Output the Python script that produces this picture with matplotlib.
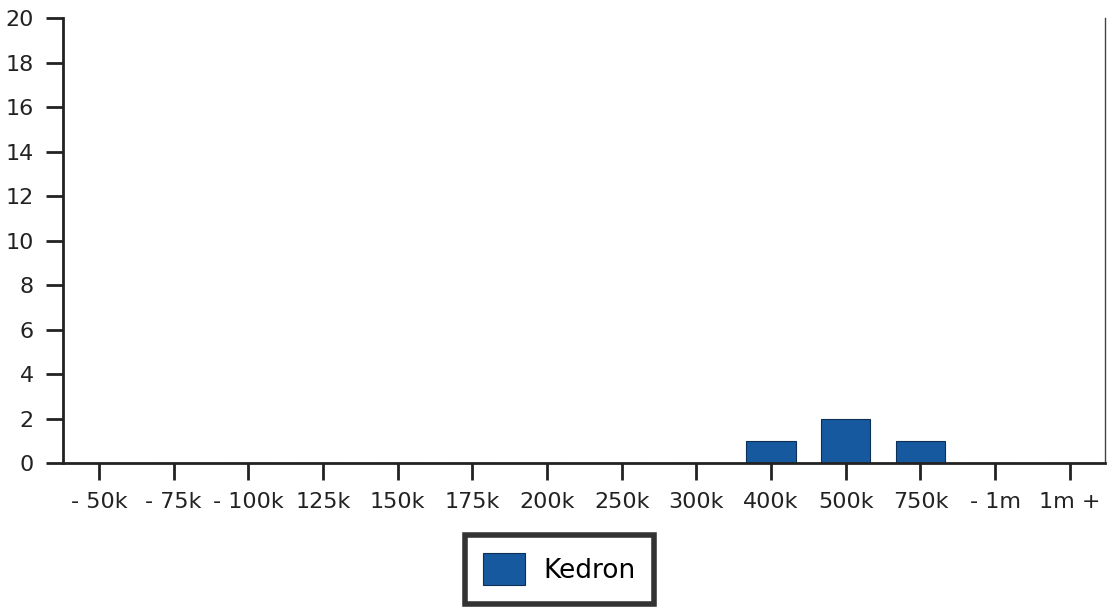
import matplotlib.pyplot as plt

categories = ["- 50k", "- 75k", "- 100k", "125k", "150k", "175k", "200k",
              "250k", "300k", "400k", "500k", "750k", "- 1m", "1m +"]
kedron = [0, 0, 0, 0, 0, 0, 0, 0, 0, 1, 2, 1, 0, 0]
yticks = list(range(0, 21, 2))

fig = plt.figure(figsize=(11.08, 6.07), dpi=100)
ax = fig.add_axes([0.0569, 0.2372, 0.9403, 0.7331])

x = list(range(len(categories)))
ax.bar(x, kedron, width=0.66, color="#17599f", edgecolor="#0e2f55",
       linewidth=0.8, label="Kedron", zorder=2)

ax.set_xlim(-0.48, len(categories) - 0.53)
ax.set_ylim(0, 20)
ax.set_yticks(yticks)
ax.set_xticks(x)
ax.set_xticklabels(categories)

for side in ["left", "bottom"]:
    ax.spines[side].set_linewidth(2)
    ax.spines[side].set_color("#222222")
ax.spines["top"].set_visible(False)
ax.spines["right"].set_linewidth(1)
ax.spines["right"].set_color("#444444")

ax.tick_params(axis="both", direction="out", length=12, width=2,
               color="#222222", labelsize=16, labelcolor="#222222")
ax.tick_params(axis="x", pad=9)
ax.tick_params(axis="y", pad=9)

leg = fig.legend(loc="center", bbox_to_anchor=(0.505, 0.062),
                 fontsize=19, handlelength=1.6, handleheight=1.5,
                 borderpad=0.7, handletextpad=0.7, fancybox=False,
                 framealpha=1)
leg.get_frame().set_edgecolor("#333333")
leg.get_frame().set_linewidth(4)

fig.savefig("out.png", dpi=100)
